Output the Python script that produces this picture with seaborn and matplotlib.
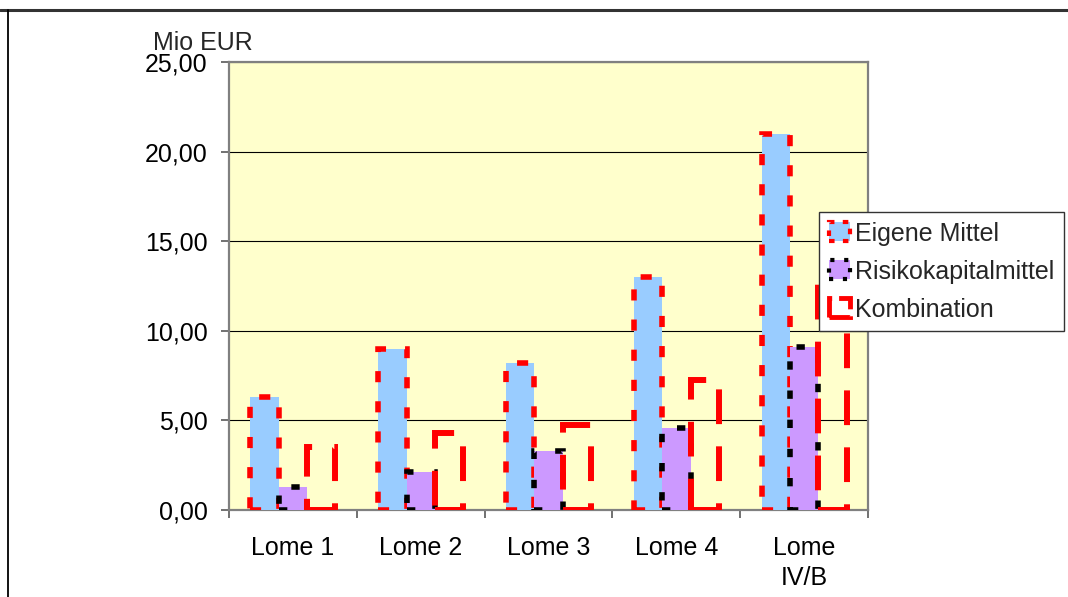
import matplotlib
matplotlib.use("Agg")
import matplotlib.pyplot as plt
import matplotlib.patches as mpatches
from matplotlib.lines import Line2D
from matplotlib.ticker import FuncFormatter, FixedLocator
import seaborn as sns
import pandas as pd

# Chart data (Mio EUR)
standorte = ["Lome 1", "Lome 2", "Lome 3", "Lome 4", "Lome\nIV/B"]
serien = ["Eigene Mittel", "Risikokapitalmittel", "Kombination"]
eigene_mittel = [6.3, 9.0, 8.2, 13.0, 21.0]
risikokapitalmittel = [1.3, 2.1, 3.3, 4.6, 9.1]
kombination = [3.5, 4.3, 4.75, 7.25, 12.6]
y_ticks = [0, 5, 10, 15, 20, 25]

df = pd.DataFrame({
    "Standort": standorte * 3,
    "Serie": [serien[0]] * 5 + [serien[1]] * 5 + [serien[2]] * 5,
    "Wert": eigene_mittel + risikokapitalmittel + kombination,
})

sns.set_theme(style="white")
plt.rcParams["font.family"] = ["Liberation Sans", "DejaVu Sans"]
plt.rcParams["lines.scale_dashes"] = False

FS = 18
W, H = 1068, 597
fig = plt.figure(figsize=(W / 100, H / 100), dpi=100)
fig.patch.set_facecolor("white")
ax = fig.add_axes([229 / W, 1 - 510 / H, (868 - 229) / W, (510 - 62) / H])
ax.set_facecolor("#FFFFCC")

palette = {serien[0]: "#99CCFF", serien[1]: "#CC99FF", serien[2]: "#FFFFCC"}
sns.barplot(data=df, x="Standort", y="Wert", hue="Serie", hue_order=serien,
            order=standorte, palette=palette, width=2 / 3, saturation=1,
            legend=False, ax=ax)

styles = [
    dict(edgecolor="#FF0000", linestyle=(0, (8, 13.7)), linewidth=4.0),
    dict(edgecolor="#000000", linestyle=(0, (6, 15)), linewidth=4.0),
    dict(facecolor="none", edgecolor="#FF0000", linestyle=(0, (25, 16)), linewidth=4.3),
]
for cont, st in zip(ax.containers, styles):
    for p in cont:
        p.set(**st)
        p.set_zorder(3)

# axes styling
ax.set_xlim(-0.5, 4.5)
ax.set_ylim(0, 25)
ax.set_yticks(y_ticks)
ax.yaxis.set_major_formatter(FuncFormatter(lambda v, _: f"{v:.2f}".replace(".", ",")))
ax.set_xticks(range(len(standorte)))
ax.set_xticklabels(standorte, linespacing=1.3)
ax.xaxis.set_minor_locator(FixedLocator([i - 0.5 for i in range(len(standorte) + 1)]))
ax.set_xlabel("")
ax.set_ylabel("")
ax.tick_params(axis="x", which="major", length=0, pad=19, labelsize=FS, colors="black")
ax.tick_params(axis="x", which="minor", length=5.5, width=1.3, color="#666666", direction="out", bottom=True)
ax.tick_params(axis="y", which="major", length=5.5, width=1.3, color="#666666", direction="out",
               left=True, pad=10, labelsize=FS, labelcolor="black")
ax.set_axisbelow(True)
ax.yaxis.grid(True, color="black", linewidth=0.8)
ax.xaxis.grid(False)
for s in ax.spines.values():
    s.set_visible(True)
    s.set_color("#808080")
    s.set_linewidth(1.6)

fig.text(153 / W, 1 - 43 / H, "Mio EUR", ha="left", va="center", fontsize=FS)

# outer frame lines
fig.add_artist(Line2D([0, 1], [1 - 10 / H] * 2, transform=fig.transFigure, color="#333333", linewidth=2.2))
fig.add_artist(Line2D([8 / W] * 2, [0, 1 - 10 / H], transform=fig.transFigure, color="black", linewidth=1.3))

handles = [
    mpatches.Patch(facecolor="#99CCFF", edgecolor="#FF0000", linestyle=(0, (4, 6)), linewidth=3),
    mpatches.Patch(facecolor="#CC99FF", edgecolor="#000000", linestyle=(0, (3, 7)), linewidth=3),
    mpatches.Patch(facecolor="none", edgecolor="#FF0000", linestyle=(0, (16, 5)), linewidth=3.5),
]
leg = fig.legend(handles, serien, loc="upper left",
                 bbox_to_anchor=(819 / W, 1 - 212 / H), bbox_transform=fig.transFigure,
                 borderaxespad=0, frameon=True, fancybox=False, framealpha=1,
                 edgecolor="#333333", facecolor="white", fontsize=FS,
                 handlelength=0.84, handleheight=0.8, handletextpad=0.22,
                 labelspacing=0.56, borderpad=0.38)
leg.get_frame().set_linewidth(1.0)
leg.set_zorder(10)

fig.savefig("out.png", dpi=100)
